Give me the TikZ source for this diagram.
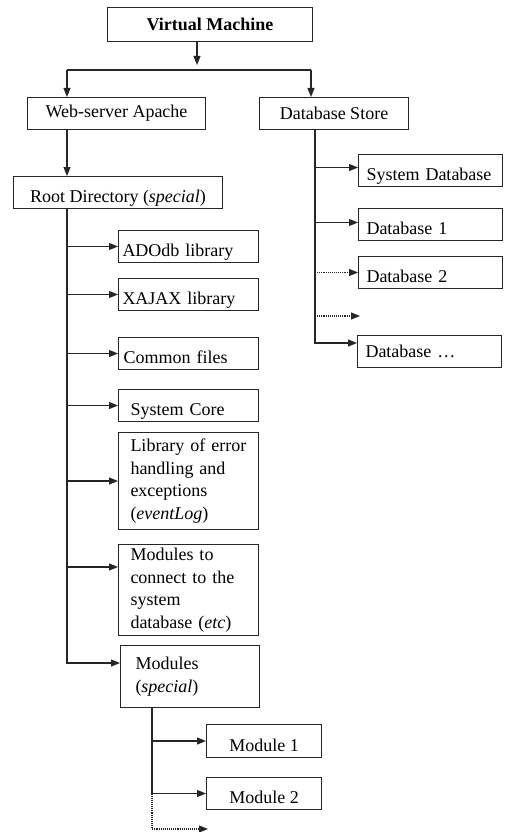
\documentclass[tikz,border=0pt]{standalone}
\usepackage{fontspec}
\setmainfont{Liberation Serif}
\usetikzlibrary{arrows.meta,positioning,calc}

\begin{document}
\begin{tikzpicture}[x=1pt, y=-1pt,
    box/.style={draw=black!85, line width=1pt, inner xsep=4pt, inner ysep=0pt, align=center, anchor=north west, font=\fontsize{18}{22.6}\selectfont},
    low/.style={text height=20pt, text depth=0pt},
    leaf/.style={box, low, align=left, inner xsep=#1, text width=140-2*#1, minimum height=32},
    dbleaf/.style={box, low, align=left, inner xsep=8pt, text width=128, minimum height=32},
    link/.style={line width=1.1pt, draw=black!85},
    arr/.style={link, -{Triangle[length=9pt, width=7pt]}},
    dotarr/.style={arr, densely dotted}
]
    \useasboundingbox (0,0) rectangle (506,832);

    % Top level
    \node[box, minimum width=205, minimum height=34, font=\fontsize{18}{22}\selectfont\bfseries] (vm) at (107,7) {Virtual Machine};
    \node[box, minimum width=178, minimum height=32] (web) at (27,97) {Web-server Apache};
    \node[box, minimum width=149, minimum height=32] (dbs) at (259,97) {Database Store};

    % Split below the machine
    \coordinate (vmtip) at (197,65);
    \coordinate (barL) at (67,70);
    \coordinate (barR) at (311,70);
    \draw[arr] (vm.south -| vmtip) -- (vmtip);
    \draw[link] (barL) -- (barR);
    \draw[arr] (barL) -- (barL |- web.north);
    \draw[arr] (barR) -- (barR |- dbs.north);

    % Web-server side
    \node[box, low, minimum width=209, minimum height=32] (root) at (13,176) {Root Directory (\textit{special})};
    \draw[arr] (barL |- web.south) -- (barL |- root.north);

    \node[leaf=4pt] (ado) at (118,230) {ADOdb library};
    \node[leaf=4pt] (xajax) at (118,278) {XAJAX library};
    \node[leaf=5pt] (common) at (118,337) {Common files};
    \node[leaf=12pt] (core) at (118,389) {System Core};
    \node[leaf=12pt, text height=, text depth=, minimum height=97] (errlib) at (118,432) {Library of error\\handling and\\exceptions\\(\textit{eventLog})};
    \node[leaf=12pt, text height=, text depth=, minimum height=91] (mcon) at (118,544) {Modules to\\connect to the\\system\\database (\textit{etc})};
    \node[box, align=left, inner xsep=15pt, text width=109, minimum height=62] (mods) at (120,645) {Modules\\(\textit{special})};

    \coordinate (mconin) at ($(mcon.north west)+(0,23)$);
    \coordinate (modsin) at ($(mods.north west)+(0,18)$);
    \draw[arr] (barL |- root.south) |- (modsin);
    \foreach \n in {ado,xajax,common,core,errlib}
        \draw[arr] (barL |- \n.west) -- (\n.west);
    \draw[arr] (barL |- mconin) -- (mconin);

    % Modules
    \node[box, low, minimum width=115, minimum height=33] (mod1) at (206,724) {Module 1};
    \node[box, low, minimum width=115, minimum height=32] (mod2) at (206,777) {Module 2};
    \coordinate (modx) at (152,0);
    \coordinate (modmore) at (208,829);
    \draw[arr] (mods.south -| modx) -- (modx |- mod1.west) -- (mod1.west);
    \draw[arr] (modx |- mod1.west) -- (modx |- mod2.west) -- (mod2.west);
    \draw[dotarr] (modx |- mod2.west) -- (modx |- modmore) -- (modmore);

    % Database side
    \node[dbleaf] (sysdb) at (358,154) {System Database};
    \node[dbleaf] (db1) at (358,208) {Database 1};
    \node[dbleaf] (db2) at (358,256) {Database 2};
    \node[dbleaf, text height=, text depth=] (dbn) at (357,335) {Database \dots};

    \coordinate (dbx) at (315,0);
    \coordinate (dbmore) at (360,316);
    \coordinate (dbnin) at ($(dbn.north west)+(0,8)$);
    \draw[arr] (dbs.south -| dbx) |- (dbnin);
    \draw[arr] (dbx |- sysdb.west) ++(0,-3) -- ($(sysdb.west)+(0,-3)$);
    \draw[arr] (dbx |- db1.west) ++(0,-2) -- ($(db1.west)+(0,-2)$);
    \draw[dotarr] (dbx |- db2.west) -- (db2.west);
    \draw[dotarr] (dbx |- dbmore) -- (dbmore);

\end{tikzpicture}
\end{document}
